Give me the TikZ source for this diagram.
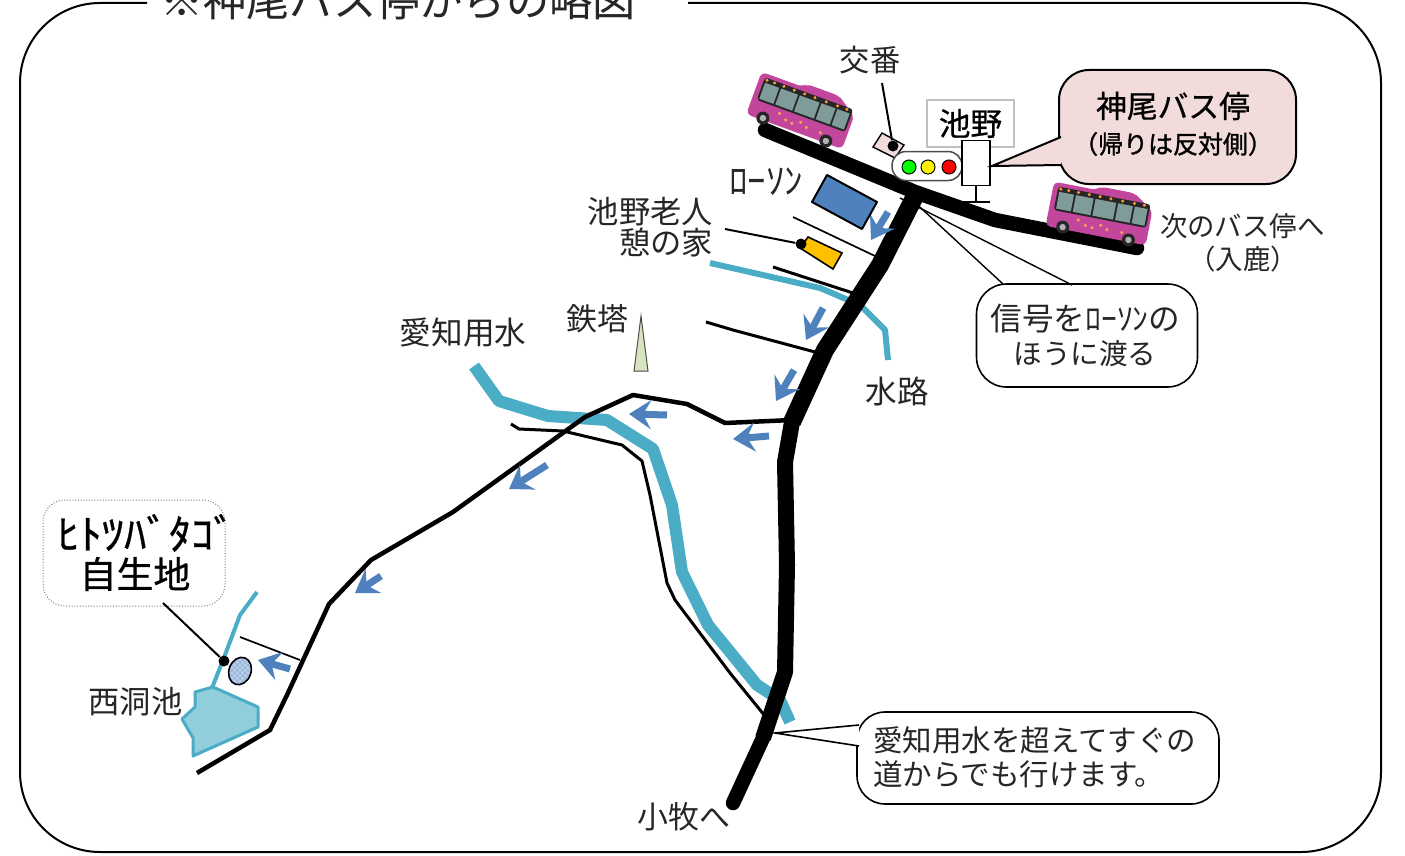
\documentclass[tikz,border=0pt]{standalone}
\usepackage{fontspec}
\setmainfont{Noto Sans CJK JP}
\newfontfamily\jpb[FakeBold=0.7]{Noto Sans CJK JP}
\newfontfamily\jpbb[FakeBold=1.3]{Noto Sans CJK JP}
\usetikzlibrary{arrows.meta,patterns,shapes.geometric}
\newcommand\jp[2]{\fontsize{#1pt}{#2pt}\selectfont}
\definecolor{aqua}{HTML}{4BACC6}
\definecolor{pond}{HTML}{92CDDC}
\definecolor{steel}{HTML}{4F81BD}
\definecolor{rose}{HTML}{F2DCDB}
\definecolor{buspink}{HTML}{C2479C}
\definecolor{buswin}{HTML}{7F9C9A}
\definecolor{amber}{HTML}{FFC000}
\definecolor{towergreen}{HTML}{D7E4BD}
\definecolor{patchblue}{HTML}{B9CFEC}
\def\px{0.02cm}
\tikzset{
  lbl/.style={inner sep=0pt,outer sep=0pt,text=black!85},
  mainroad/.style={line width=14.5*\px,line cap=round,line join=round},
  sideroad/.style={line width=3*\px,line join=round},
  thinroad/.style={line width=1.7*\px},
  canal/.style={draw=aqua,line width=12*\px,line join=round},
  walk/.style={draw=steel,line width=7*\px,-{Stealth[length=22*\px,width=29*\px,inset=8*\px]}},
  callout/.style={draw=black,line width=1.6*\px,fill=white},
  pin/.style={circle,fill=black,inner sep=0pt,minimum size=11*\px},
  leader/.style={draw=black,line width=2*\px},
  citybus/.pic={
    \fill[buspink,rounded corners=5*\px] (-51,-22) -- (-8,-22) -- (-4,-26) -- (30,-26) -- (36,-22) -- (51,-12) -- (51,23) -- (-51,23) -- cycle;
    \fill[black!85,rounded corners=3*\px] (-46,-18) rectangle (48,6);
    \foreach \xa/\xb in {-44/-29,-27/-9,-7/14,16/31,33/46}
      \fill[buswin] (\xa,-13) rectangle (\xb,4);
    \foreach \xa in {-43,-35,-25,-14,-3,8,20,32,42}
      \fill[orange!80] (\xa,-16) circle (1.7);
    \foreach \xa/\ya in {-20/11,-12/15,-5/16,3/12,10/15,25/15}
      \fill[orange!55!pink] (\xa,\ya) circle (1.8);
    \foreach \xa in {-34,33}{
      \fill[black!85] (\xa,21) circle (6.5);
      \fill[black!30] (\xa,21) circle (3.2);}
  }
}
\begin{document}
\begin{tikzpicture}[x=0.02cm,y=-0.02cm]
\useasboundingbox (0,0) rectangle (1405,855);
\clip (0,0) rectangle (1405,855);
% frame
\draw[line width=2*\px,rounded corners=80*\px] (688,3) -- (1381,3) -- (1381,852) -- (20,852) -- (20,3) -- (147,3);
\node[lbl,font=\jp{24.6}{28}] (title) at (398,0) {※神尾バス停からの略図};
% canals
\draw[canal,line width=6*\px] (710,263) -- (820,288) -- (860,305) -- (885,330) -- (888,360);
\draw[canal] (474,366) -- (499,401) -- (548,416) -- (607,420) -- (653,449) -- (672,505) -- (682,572) -- (708,625) -- (757,685) -- (780,700) -- (790,722);
\draw[canal,line width=4*\px] (257,592) -- (240,615) -- (225,655) -- (212,688);
% pond
\draw[draw=aqua,fill=pond,line width=3*\px,line join=round] (213,687) -- (258,707) -- (258,727) -- (193,756) -- (193,738) -- (182,719) -- (195,707) -- (195,692) -- cycle;
% side roads
\draw[thinroad] (793,217) -- (875,256);
\draw[sideroad] (773,267) -- (853,293);
\draw[sideroad] (706,322) -- (733,330) -- (815,352);
\draw[sideroad] (511,424) -- (519,429) -- (563,431) -- (622,445) -- (642,461) -- (650,495) -- (667,583) -- (675,600) -- (730,673) -- (765,716);
\draw[sideroad,line width=4.5*\px] (792,420) -- (725,423) -- (687,404) -- (633,395) -- (585,417) -- (453,512) -- (371,560) -- (329,604) -- (287,695) -- (270,730) -- (197,773);
\draw[thinroad] (240,637) -- (300,660);
% main roads
\draw[mainroad] (765,130) -- (915,192) -- (995,220) -- (1137,248);
\draw[mainroad,line cap=butt,line width=18*\px] (915,196) -- (880,265) -- (825,350) -- (792,422);
\draw[mainroad,line cap=butt,line width=16*\px] (792,422) -- (785,462) -- (787,565) -- (785,672) -- (763,738);
\draw[mainroad] (763,738) -- (733,803);
% walking arrows
\draw[walk] (888,212) -- (871,240);
\draw[walk] (823,308) -- (806,340);
\draw[walk] (794,370) -- (776,401);
\draw[walk] (667,415) -- (629,414);
\draw[walk] (769,436) -- (733,439);
\draw[walk] (547,465) -- (509,489);
\draw[walk] (381,576) -- (355,593);
\draw[walk] (290,669) -- (258,660);
% buildings
\draw[fill=steel,line width=2*\px,line join=round] (827,175) -- (877,202) -- (862,229) -- (812,202) -- cycle;
\draw[fill=amber,line width=1.6*\px] (808,237) -- (842,253) -- (833,269) -- (800,248) -- cycle;
\draw[fill=rose,line width=1.4*\px] (882,133) -- (904,145) -- (895,158) -- (873,147) -- cycle;
\draw[fill=towergreen,draw=black!70,line width=1*\px] (641,316) -- (648,371) -- (634,371) -- cycle;
% buses
\pic[rotate=-20] at (802,110) {citybus};
\pic[rotate=-11] at (1100,213) {citybus};
% signal
\node[draw=black!70,fill=white,rounded corners=14*\px,line width=1.5*\px,minimum width=70*\px,minimum height=29*\px] (signal) at (927,166) {};
\foreach \cx/\cc in {909/green,928/yellow,949/red}
  \draw[fill=\cc,line width=1*\px] (\cx,167) circle (7);
\node[draw=black!25,fill=white,line width=2*\px,minimum width=87*\px,minimum height=47*\px,inner sep=0pt,font=\jp{18}{20}\jpb] (ikeno) at (970.5,123.5) {池野};
\node[draw=black,fill=white,line width=1.6*\px,minimum width=28*\px,minimum height=45*\px,inner sep=0pt] (post) at (976,163) {};
\coordinate (base) at (976,202);
\draw[line width=1.6*\px] (post.south) -- (base);
\draw[line width=1.6*\px] (962,202) -- (990,202);
% callouts
\node[draw=black,fill=rose,rounded corners=30*\px,line width=2*\px,minimum width=237*\px,minimum height=114*\px,inner sep=0pt] (bus stop) at (1177.5,127) {};
\coordinate (bus tip) at (992,166);
\draw[draw=black,fill=rose,line width=2*\px] (1061,137) -- (bus tip) -- (1061,165);
\node[lbl,text=black,font=\jp{17.5}{20}\jpb] (bus name) at (1173,106) {神尾バス停};
\node[lbl,text=black,font=\jp{14.2}{20}\jpbb] (bus note) at (1173,144) {（帰りは反対側）};
\node[fill=white,rounded corners=30*\px,minimum width=221*\px,minimum height=103*\px,inner sep=0pt,draw=black,line width=1.6*\px] (crossing) at (1087,335.5) {};
\node[lbl,font=\jp{18}{20}] at (1085.5,319) {信号をﾛｰｿﾝの};
\node[lbl,font=\jp{16.3}{20}] at (1085,354) {ほうに渡る};
\coordinate (sig a) at (910,198);
\coordinate (sig b) at (900,198);
\draw[line width=1.4*\px] (sig a) -- (1003,284);
\draw[line width=1.4*\px] (sig b) -- (1072,285);
\node[fill=white,rounded corners=28*\px,minimum width=362*\px,minimum height=92*\px,inner sep=0pt,draw=black,line width=1.6*\px] (note box) at (1038,758) {};
\coordinate (junction) at (775,733);
\draw[callout] (859,725) -- (junction) -- (859,746);
\node[lbl,align=left,anchor=west,font=\jp{16.8}{19.5}] (note) at (873,757) {愛知用水を超えてすぐの\\道からでも行けます。};
\node[draw=black!50,densely dotted,fill=white,rounded corners=22*\px,line width=1*\px,minimum width=182*\px,minimum height=106*\px,inner sep=0pt] (habitat) at (134,553) {};
\node[lbl,font=\jp{23.4}{24}\jpb,text=black,xscale=1.085] at (146.5,533) {ﾋﾄﾂﾊﾞﾀｺﾞ};
\node[lbl,font=\jp{21}{24}\jpb,text=black] at (135,574) {自生地};
% tree patch
\fill[patchblue,rotate around={-20:(240,671)}] (240,671) ellipse (11 and 14);
\draw[pattern=crosshatch,pattern color=steel!60,line width=1.6*\px,rotate around={-20:(240,671)}] (240,671) ellipse (11 and 14);
\node[pin] (tree) at (224,661) {};
\coordinate (habitat foot) at (163,603);
\draw[leader] (habitat foot) -- (tree);
\node[pin] (koban pin) at (893,146) {};
\node[lbl,font=\jp{17.2}{20}] (koban) at (870,60) {交番};
\coordinate (koban foot) at (882,83);
\draw[leader] (koban foot) -- (koban pin);
\node[pin] (hall pin) at (801,244) {};
\coordinate (hall foot) at (725,229);
\draw[leader] (hall foot) -- (hall pin);
% labels
\node[lbl,font=\jp{21}{20}] (lawson) at (766,182) {ﾛｰｿﾝ};
\node[lbl,align=right,anchor=north east,font=\jp{17.8}{17.5}] (hall) at (713,197) {池野老人\\憩の家};
\node[lbl,font=\jp{17.6}{20}] (tower) at (597.5,319) {鉄塔};
\node[lbl,font=\jp{18}{20}] (aichi) at (463,333) {愛知用水};
\node[lbl,font=\jp{18}{20}] (suiro) at (897,391) {水路};
\node[lbl,font=\jp{17.8}{20}] (nishi) at (135.5,702) {西洞池};
\node[lbl,font=\jp{17.6}{20}] (komaki) at (684,817) {小牧へ};
\node[lbl,anchor=west,font=\jp{15.6}{20}] (next) at (1160,226) {次のバス停へ};
\node[lbl,font=\jp{15.6}{20}] (iruka) at (1243,259) {（入鹿）};
\end{tikzpicture}
\end{document}
